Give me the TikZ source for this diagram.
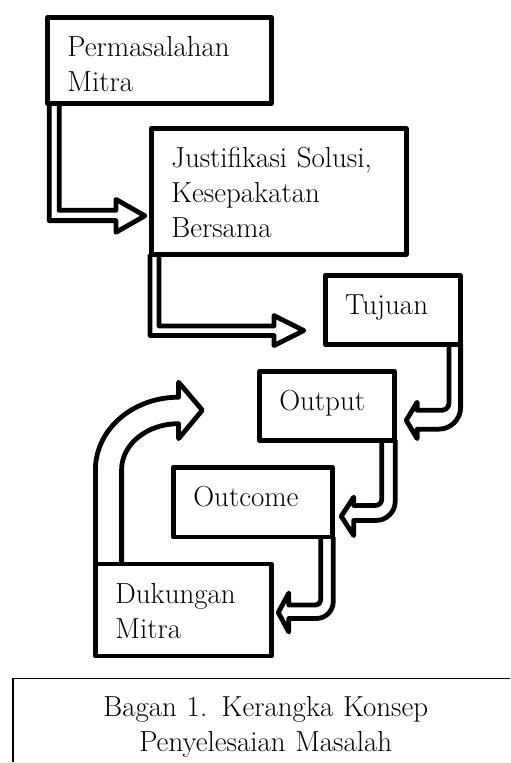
\documentclass[tikz,border=0pt]{standalone}
\tikzset{
  kotak/.style={draw, line width=4.8pt, line join=round, outer sep=0pt,
    inner xsep=20pt, inner ysep=0pt, align=left, text height=39.5pt},
  panah/.style={line width=4.8pt, line join=round},
}
\begin{document}
\begin{tikzpicture}[x=1pt, y=1pt, every node/.style={font=\fontsize{29}{35}\selectfont}]
\path[fill=white] (0,0) rectangle (510,-763);
% kotak
\node[kotak, text width=184pt, text depth=46.5pt] (masalah) at (159.5,-60.5) {Permasalahan\\Mitra};
\node[kotak, text width=215pt, text depth=86.5pt] (solusi) at (279,-191.5) {Justifikasi Solusi,\\Kesepakatan\\Bersama};
\node[kotak, text width=95pt, text depth=29.5pt] (tujuan) at (393,-310) {Tujuan};
\node[kotak, text width=95pt, text depth=29.5pt] (output) at (327,-406) {Output};
\node[kotak, text width=119pt, text depth=30.5pt] (outcome) at (253,-502.5) {Outcome};
\node[kotak, text width=136pt, text depth=52.5pt] (dukungan) at (183.5,-610.5) {Dukungan\\Mitra};
% panah
\draw[panah] ([xshift=1.7pt]masalah.south west) -- ++(0,-117.3) -- ++(66.8,0) -- ++(0,-11.7)
  -- ++(29,16.5) -- ++(-29,16.5) -- ++(0,-11) -- ++(-56.8,0) -- ++(0,107);
\draw[panah] ([xshift=-1.3pt]solusi.south west) -- ++(0,-81.3) -- ++(124,0) -- ++(0,-10)
  -- ++(29.8,15) -- ++(-29.8,15) -- ++(0,-10.4) -- ++(-115,0) -- ++(0,71.7);
\draw[panah] ([xshift=-11.2pt]tujuan.south east) -- ++(0,-59) arc[start angle=0, end angle=-90, radius=7]
  -- ++(-24.8,0) -- ++(0,8) -- ++(-11,-18.2) -- ++(11,-18.3) -- ++(0,9.5) -- ++(21.5,0)
  arc[start angle=-90, end angle=0, radius=22] -- ++(0,63);
\draw[panah] ([xshift=-12.5pt]output.south east) -- ++(0,-59.3) arc[start angle=0, end angle=-90, radius=6]
  -- ++(-22,0) -- ++(0,8.3) -- ++(-12.5,-19.2) -- ++(12.5,-19.3) -- ++(0,15.2) -- ++(22.5,0)
  arc[start angle=-90, end angle=0, radius=19] -- ++(0,61.3);
\draw[panah] ([xshift=-11.5pt]outcome.south east) -- ++(0,-63) arc[start angle=0, end angle=-90, radius=5]
  -- ++(-27,0) -- ++(0,12) -- ++(-10.5,-19.5) -- ++(10.5,-19.5) -- ++(0,13.5) -- ++(27.5,0)
  arc[start angle=-90, end angle=0, radius=17] -- ++(0,64.5);
% panah melengkung
\draw[panah] (dukungan.north west) -- ++(0,94.5) arc[start angle=180, end angle=90, x radius=83.2, y radius=72.5]
  -- ++(0,15) -- ++(23.8,-28) -- ++(-23.8,-28.5) -- ++(0,15)
  arc[start angle=90, end angle=180, x radius=57, y radius=46] -- ++(0,-94.5);
% keterangan
\draw[line width=1.2pt] (13,-763) -- (13,-679) -- (510,-679);
\node[anchor=base, align=center, text width=420pt] (bagan) at (266,-717) {Bagan 1. Kerangka Konsep\\Penyelesaian Masalah};
\end{tikzpicture}
\end{document}
